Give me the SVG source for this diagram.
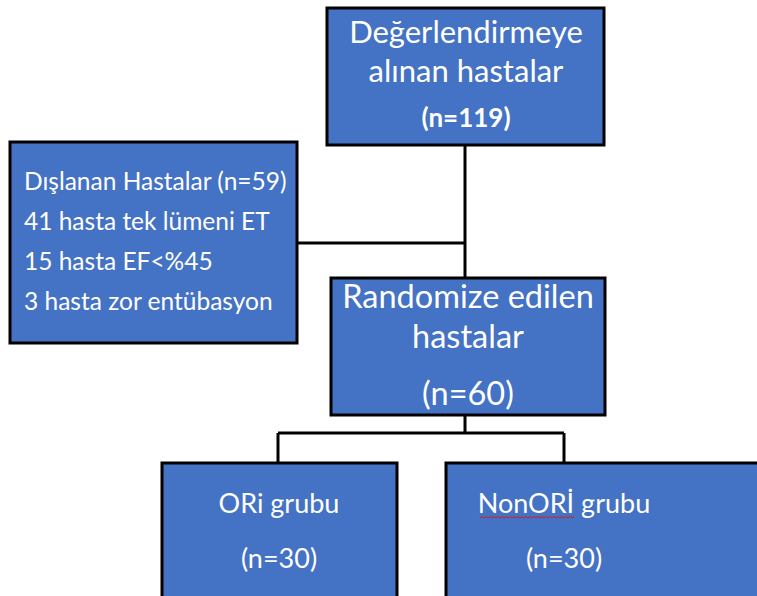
<svg xmlns="http://www.w3.org/2000/svg" width="757" height="596" viewBox="0 0 757 596">
<style>
.box{fill:#4472C4;stroke:#000;stroke-width:3}
.t{font-family:Lato,"Open Sans","Liberation Sans",sans-serif;fill:#fff}
.c{text-anchor:middle}
.ln{stroke:#000;stroke-width:3;fill:none}
</style>
<rect width="757" height="596" fill="#fff"/>
<g id="connectors">
<line class="ln" x1="465" y1="145" x2="465" y2="278"/>
<line class="ln" x1="297" y1="243" x2="465" y2="243"/>
<line class="ln" x1="465" y1="415" x2="465" y2="433"/>
<line class="ln" x1="278" y1="433" x2="564" y2="433"/>
<line class="ln" x1="278" y1="433" x2="278" y2="463"/>
<line class="ln" x1="564" y1="433" x2="564" y2="463"/>
</g>
<g id="node-degerlendirme">
<rect class="box" x="327" y="8" width="277" height="137"/>
<text class="t c" x="466" y="43" font-size="31">Değerlendirmeye</text>
<text class="t c" x="466" y="82" font-size="31">alınan hastalar</text>
<text class="t c" x="466" y="127" font-size="26" font-weight="bold">(n=119)</text>
</g>
<g id="node-dislanan">
<rect class="box" x="10" y="142" width="287" height="201"/>
<text class="t" x="24" y="190" font-size="24.5">Dışlanan Hastalar (n=59)</text>
<text class="t" x="24" y="230" font-size="24.5">41 hasta tek lümeni ET</text>
<text class="t" x="24" y="270" font-size="24.5">15 hasta EF&lt;%45</text>
<text class="t" x="24" y="310" font-size="24.5">3 hasta zor entübasyon</text>
</g>
<g id="node-randomize">
<rect class="box" x="331" y="278" width="274" height="137"/>
<text class="t c" x="468" y="308" font-size="32.5">Randomize edilen</text>
<text class="t c" x="468" y="348" font-size="32.5">hastalar</text>
<text class="t c" x="468" y="405" font-size="32.5">(n=60)</text>
</g>
<g id="node-ori">
<rect class="box" x="162" y="463" width="235" height="145"/>
<text class="t c" x="279" y="513" font-size="27">ORi grubu</text>
<text class="t c" x="279" y="568" font-size="27">(n=30)</text>
</g>
<g id="node-nonori">
<rect class="box" x="446" y="463" width="320" height="145"/>
<text class="t c" x="564" y="513" font-size="27">NonORİ grubu</text>
<path d="M480 518 l2 -1.5 l2 1.5 l2 -1.5 l2 1.5 l2 -1.5 l2 1.5 l2 -1.5 l2 1.5 l2 -1.5 l2 1.5 l2 -1.5 l2 1.5 l2 -1.5 l2 1.5 l2 -1.5 l2 1.5 l2 -1.5 l2 1.5 l2 -1.5 l2 1.5 l2 -1.5 l2 1.5 l2 -1.5 l2 1.5 l2 -1.5 l2 1.5 l2 -1.5 l2 1.5 l2 -1.5 l2 1.5 l2 -1.5 l2 1.5 l2 -1.5 l2 1.5 l2 -1.5 l2 1.5 l2 -1.5 l2 1.5 l2 -1.5 l2 1.5 l2 -1.5 l2 1.5 l2 -1.5 l2 1.5 l2 -1.5 l2 1.5 l2 -1.5" stroke="#d02020" stroke-width="1" fill="none"/>
<text class="t c" x="564" y="568" font-size="27">(n=30)</text>
</g>
</svg>
